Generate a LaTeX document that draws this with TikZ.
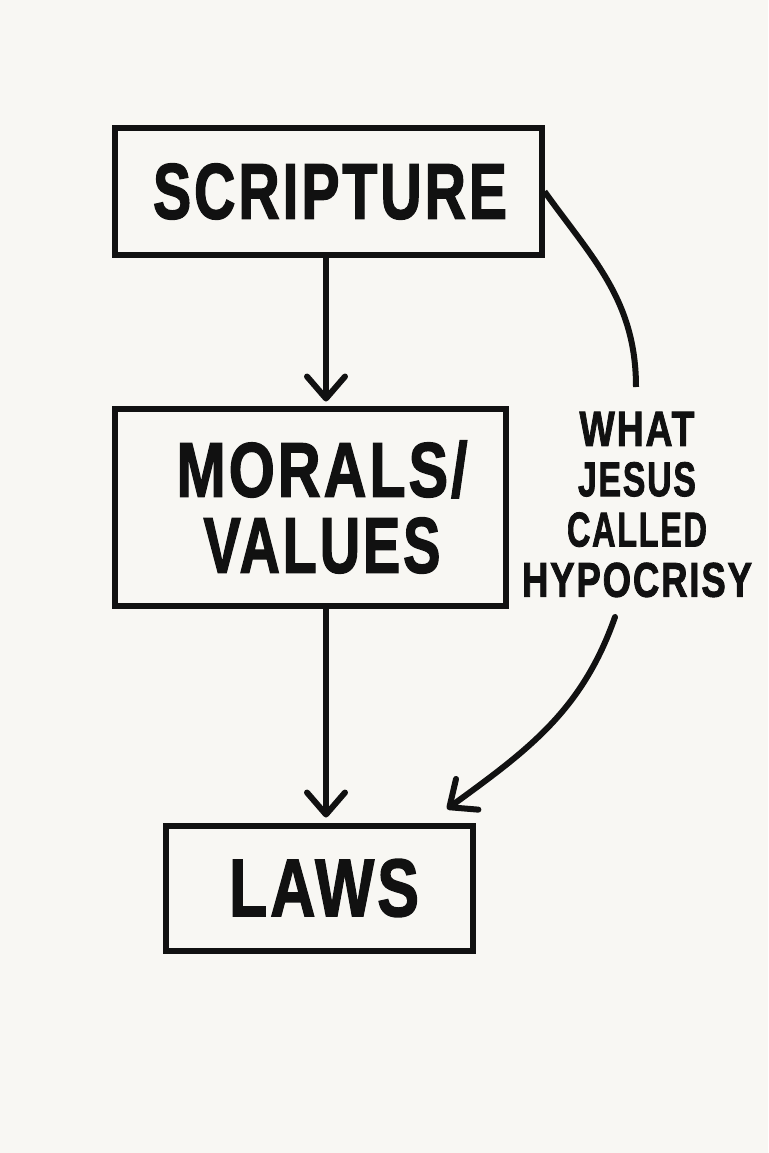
\documentclass[tikz,border=0pt]{standalone}
\usepackage{fontspec}
\setmainfont{Liberation Sans}
\newfontfamily\heavy[LetterSpace=5, FakeBold=2]{Liberation Sans Bold}
\usepackage{graphicx}
\usetikzlibrary{arrows.meta}
\definecolor{bg}{HTML}{F8F7F3}
\definecolor{ink}{HTML}{111111}
\begin{document}
\begin{tikzpicture}[x=1pt,y=-1pt,
  box/.style={draw=ink, line width=6pt, inner sep=0pt, text=ink, align=center},
  arr/.style={draw=ink, line width=6pt, line cap=round, -{Straight Barb[length=22pt,width=38pt,round]}},
  lbl/.style={inner sep=0pt, text=ink, align=center}]
\fill[bg] (0,0) rectangle (768,1153);
\useasboundingbox (0,0) rectangle (768,1153);

\node[box, minimum width=427pt, minimum height=126pt] (scripture) at (328,191.5)
  {\hspace*{4pt}\heavy\resizebox{354pt}{55pt}{SCRIPTURE}};
\node[box, minimum width=391pt, minimum height=197pt, font=\fontsize{10}{76}\selectfont] (morals) at (310,507)
  {\hspace*{24pt}\heavy\resizebox{291pt}{56pt}{MORALS/}\\\hspace*{24pt}\heavy\resizebox{237pt}{55pt}{VALUES}};
\node[box, minimum width=307pt, minimum height=125pt] (laws) at (319,888)
  {\hspace*{10pt}\heavy\resizebox{190pt}{57pt}{LAWS}};

\node[lbl, font=\fontsize{10}{50.3}\selectfont] (hypo) at (637,504.5)
  {\heavy\resizebox{115pt}{34pt}{WHAT}\\
   \heavy\resizebox{118pt}{34pt}{JESUS}\\
   \heavy\resizebox{140pt}{34pt}{CALLED}\\
   \heavy\resizebox{230pt}{34pt}{HYPOCRISY}};

\coordinate (axis) at (326,0);
\coordinate (hypoin) at (636,387);
\coordinate (hypoout) at (615,617);
\coordinate (lawsin) at (447,809);

\draw[arr, shorten >=4pt] (scripture.south -| axis) -- (morals.north -| axis);
\draw[arr, shorten >=5pt] (morals.south -| axis) -- (laws.north -| axis);

\draw[draw=ink, line width=6pt] (scripture.east) .. controls (592,258) and (636,300) .. (hypoin);
\draw[arr] (hypoout) .. controls (582,711) and (528,750) .. (lawsin);
\end{tikzpicture}
\end{document}
